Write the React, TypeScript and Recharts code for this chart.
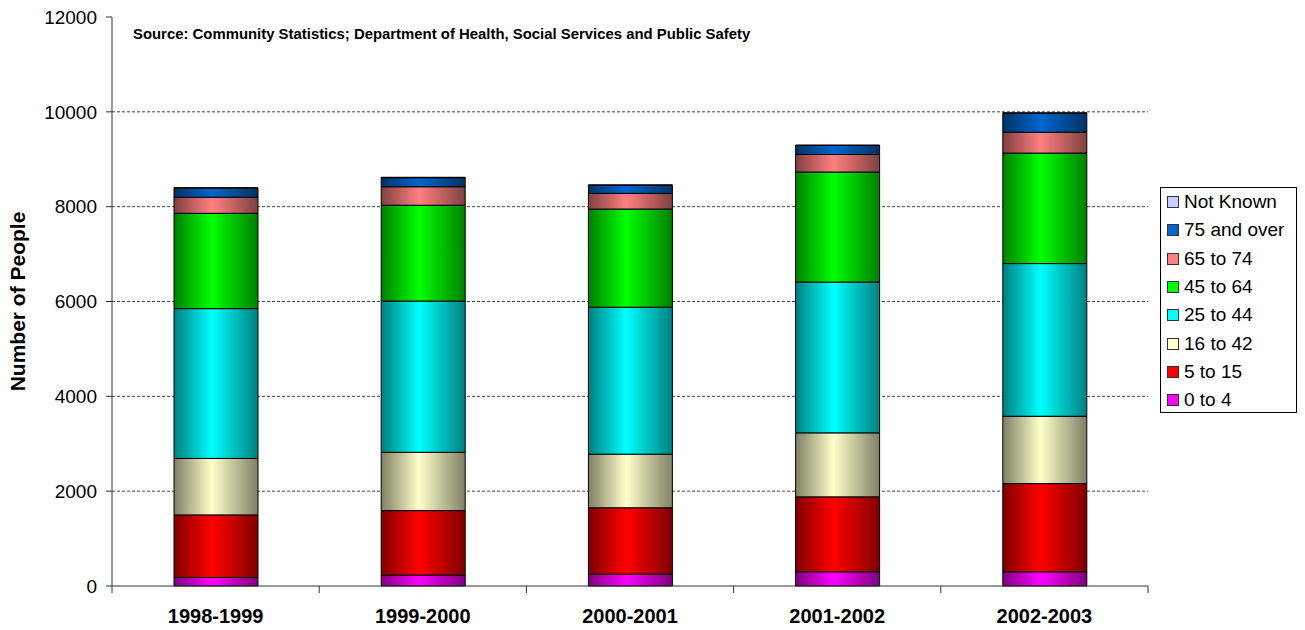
import { BarChart, Bar, XAxis, YAxis, CartesianGrid, Legend } from 'recharts'

const CATEGORIES = ['1998-1999', '1999-2000', '2000-2001', '2001-2002', '2002-2003']

// stacked from the bottom up
const AGE_0_4 = [180, 230, 250, 300, 300]
const AGE_5_15 = [1320, 1360, 1400, 1580, 1860]
const AGE_16_42 = [1190, 1230, 1130, 1350, 1420]
const AGE_25_44 = [3160, 3190, 3100, 3180, 3220]
const AGE_45_64 = [2010, 2020, 2070, 2320, 2330]
const AGE_65_74 = [340, 390, 330, 370, 440]
const AGE_75_OVER = [190, 190, 170, 190, 400]
const NOT_KNOWN = [10, 10, 10, 10, 10]

const SERIES_NAMES = ['0 to 4', '5 to 15', '16 to 42', '25 to 44', '45 to 64', '65 to 74', '75 and over', 'Not Known']
const SERIES_VALUES = [AGE_0_4, AGE_5_15, AGE_16_42, AGE_25_44, AGE_45_64, AGE_65_74, AGE_75_OVER, NOT_KNOWN]

const Y_MAX = 12000
const Y_TICKS = [0, 2000, 4000, 6000, 8000, 10000, 12000]
const GRID_VALUES = [2000, 4000, 6000, 8000, 10000]

const COLORS = ['#ff00ff', '#ff0000', '#ffffcc', '#00ffff', '#00ff00', '#ff8080', '#0066cc', '#ccccff']
const DARK = ['#800080', '#800000', '#808066', '#008080', '#008000', '#804040', '#003366', '#666680']

const data = CATEGORIES.map((year, i) => {
  const row: Record<string, string | number> = { year }
  SERIES_VALUES.forEach((vals, s) => {
    row['s' + s] = vals[i]
  })
  return row
})

const W = 1305
const H = 630
const MARGIN = { top: 17, right: 157, bottom: 0, left: 0 }
const Y_W = 112
const X_H = 44
const HALF_BAND = (W - MARGIN.left - MARGIN.right - Y_W) / CATEGORIES.length / 2
const FONT = '"Liberation Sans", Arial, sans-serif'

function XTick(props: any) {
  const { x, y, payload, index } = props
  return (
    <g>
      <line x1={x - HALF_BAND} x2={x - HALF_BAND} y1={y} y2={y + 7} stroke="#333" />
      {index === CATEGORIES.length - 1 && (
        <line x1={x + HALF_BAND} x2={x + HALF_BAND} y1={y} y2={y + 7} stroke="#333" />
      )}
      <text x={x} y={y + 37} textAnchor="middle" fontFamily={FONT} fontWeight="bold" fontSize={20} fill="#000">
        {payload.value}
      </text>
    </g>
  )
}

function LegendBox() {
  const order = SERIES_NAMES.map((n, i) => i).reverse()
  return (
    <div
      style={{
        border: '1px solid #000',
        background: '#fff',
        padding: '0 0 0 6px',
        fontFamily: FONT,
        fontSize: 19,
        color: '#000',
        boxSizing: 'border-box',
        width: 137,
        height: 226,
      }}
    >
      {order.map((i) => (
        <div key={i} style={{ display: 'flex', alignItems: 'center', height: 28.3, whiteSpace: 'nowrap' }}>
          <span
            style={{
              display: 'inline-block',
              width: 12,
              height: 12,
              background: COLORS[i],
              border: '1px solid #333',
              marginRight: 5,
              boxSizing: 'border-box',
            }}
          />
          {SERIES_NAMES[i]}
        </div>
      ))}
    </div>
  )
}

export default function App() {
  return (
    <div style={{ position: 'absolute', left: 0, top: 0, width: W, height: H, background: '#fff' }}>
      <BarChart width={W} height={H} data={data} margin={MARGIN} barSize={84}>
        <defs>
          {COLORS.map((c, i) => (
            <linearGradient key={i} id={'grad' + i} x1="0" y1="0" x2="1" y2="0">
              <stop offset="0%" stopColor={DARK[i]} />
              <stop offset="45%" stopColor={c} />
              <stop offset="100%" stopColor={DARK[i]} />
            </linearGradient>
          ))}
        </defs>
        <CartesianGrid
          vertical={false}
          stroke="#444"
          strokeDasharray="3 2"
          horizontalCoordinatesGenerator={({ offset }: any) =>
            GRID_VALUES.map((v) => offset.top + offset.height * (1 - v / Y_MAX))
          }
        />
        <XAxis
          dataKey="year"
          height={X_H}
          axisLine={{ stroke: '#333' }}
          tickLine={false}
          tickSize={0}
          tickMargin={0}
          interval={0}
          tick={<XTick />}
        />
        <XAxis
          xAxisId="top"
          orientation="top"
          dataKey="year"
          height={0}
          axisLine={{ stroke: '#555' }}
          tick={false}
          tickLine={false}
        />
        <YAxis
          width={Y_W}
          domain={[0, Y_MAX]}
          ticks={Y_TICKS}
          interval={0}
          axisLine={{ stroke: '#333' }}
          tickLine={{ stroke: '#333' }}
          tickSize={6}
          tickMargin={9}
          tick={{ fontFamily: FONT, fontSize: 19, fill: '#000' }}
          label={{
            value: 'Number of People',
            angle: -90,
            position: 'insideLeft',
            offset: 18,
            style: { textAnchor: 'middle', fontFamily: FONT, fontWeight: 'bold', fontSize: 21, fill: '#000' },
          }}
        />
        <Legend
          layout="horizontal"
          verticalAlign="middle"
          wrapperStyle={{ left: 1160, top: 187, width: 137, height: 226 }}
          content={() => <LegendBox />}
        />
        {SERIES_NAMES.map((name, i) => (
          <Bar
            key={name}
            dataKey={'s' + i}
            name={name}
            stackId="a"
            fill={`url(#grad${i})`}
            stroke="#000"
            strokeWidth={1}
            isAnimationActive={false}
          />
        ))}
      </BarChart>
      <div
        style={{
          position: 'absolute',
          left: 133,
          top: 26,
          fontFamily: FONT,
          fontWeight: 'bold',
          fontSize: 14.9,
          color: '#000',
          whiteSpace: 'nowrap',
        }}
      >
        Source: Community Statistics; Department of Health, Social Services and Public Safety
      </div>
    </div>
  )
}
